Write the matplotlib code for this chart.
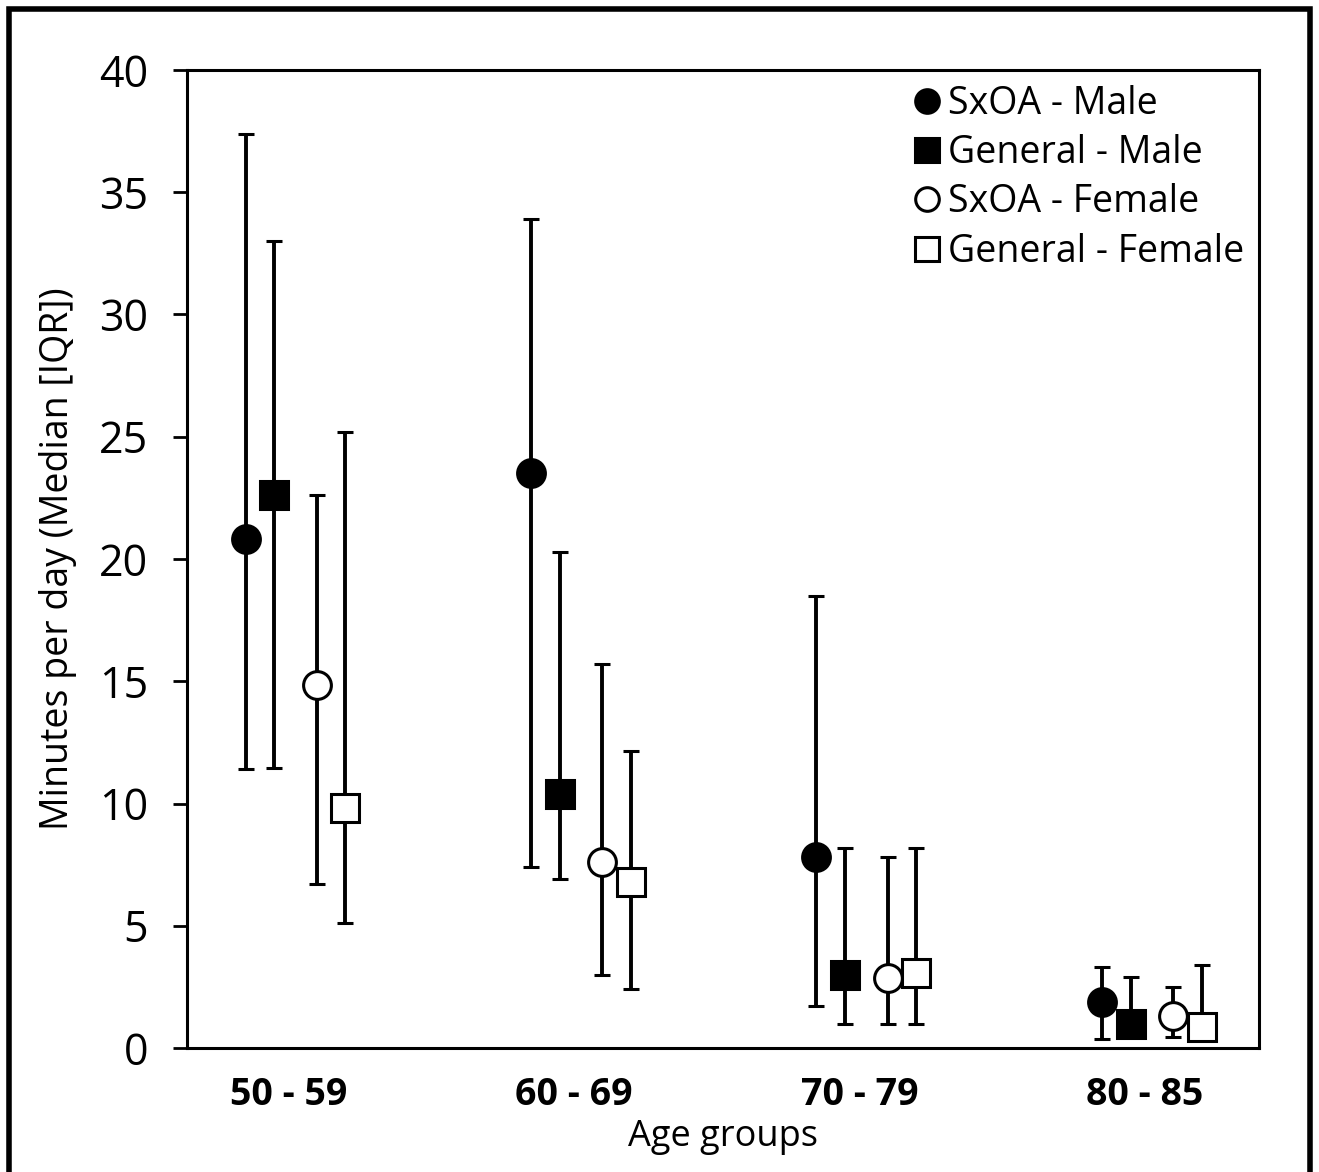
import matplotlib.pyplot as plt
from matplotlib.patches import Rectangle
from matplotlib.lines import Line2D
import numpy as np

plt.rcParams['font.family'] = ['Open Sans', 'DejaVu Sans']

# age groups on the x axis
age_groups = ["50 - 59", "60 - 69", "70 - 79", "80 - 85"]

# medians and IQR (lower, upper), minutes per day
sxoa_male_med = [20.8, 23.5, 7.8, 1.9]
sxoa_male_lo = [11.4, 7.4, 1.7, 0.35]
sxoa_male_hi = [37.4, 33.9, 18.5, 3.3]

gen_male_med = [22.6, 10.4, 3.0, 1.0]
gen_male_lo = [11.45, 6.9, 1.0, 0.6]
gen_male_hi = [33.0, 20.3, 8.2, 2.9]

sxoa_female_med = [14.85, 7.6, 2.85, 1.3]
sxoa_female_lo = [6.7, 3.0, 1.0, 0.45]
sxoa_female_hi = [22.6, 15.7, 7.8, 2.5]

gen_female_med = [9.8, 6.8, 3.05, 0.85]
gen_female_lo = [5.1, 2.4, 1.0, 0.4]
gen_female_hi = [25.2, 12.15, 8.2, 3.4]

series = [
    ("SxOA - Male", sxoa_male_med, sxoa_male_lo, sxoa_male_hi, "o", "black", -0.15),
    ("General - Male", gen_male_med, gen_male_lo, gen_male_hi, "s", "black", -0.05),
    ("SxOA - Female", sxoa_female_med, sxoa_female_lo, sxoa_female_hi, "o", "white", 0.10),
    ("General - Female", gen_female_med, gen_female_lo, gen_female_hi, "s", "white", 0.20),
]

fig = plt.figure(figsize=(13.19, 11.72), dpi=100)
ax = fig.add_axes([187 / 1319, 1 - 1048 / 1172, (1259 - 187) / 1319, (1048 - 70) / 1172])

x = np.arange(1, len(age_groups) + 1)
handles = []
for name, med, lo, hi, mk, fc, off in series:
    med = np.array(med)
    yerr = [med - np.array(lo), np.array(hi) - med]
    ax.errorbar(x + off, med, yerr=yerr, fmt=mk, ms=20, mfc=fc, mec="black", mew=2.2,
                ecolor="black", elinewidth=2.8, capsize=6, capthick=2.8)
    handles.append(Line2D([], [], ls="none", marker=mk, ms=17, mfc=fc, mec="black",
                          mew=2.2, label=name))

ax.set_xlim(0.645, 4.4)
ax.set_ylim(0, 40)
ax.set_yticks(np.arange(0, 41, 5))
ax.set_xticks(x)
ax.set_xticklabels(age_groups, fontsize=27, fontweight="bold")
ax.tick_params(axis="y", direction="out", length=10, width=2, labelsize=31, pad=18)
ax.tick_params(axis="x", length=0, pad=20)
for s in ax.spines.values():
    s.set_linewidth(2.2)

ax.set_xlabel("Age groups", fontsize=26, labelpad=4)
ax.set_ylabel("Minutes per day (Median [IQR])", fontsize=27, labelpad=16)

ax.legend(handles=handles, loc="upper right", bbox_to_anchor=(1.0, 1.0), frameon=False,
          fontsize=27, handlelength=0.8, handletextpad=0.15, labelspacing=0.3,
          borderaxespad=0.0)

# outer frame around the whole figure
fig.patches.append(Rectangle((9 / 1319, -0.01), (1310 - 9) / 1319, 1 - 9 / 1172 + 0.01,
                             transform=fig.transFigure, fill=False, edgecolor="black",
                             linewidth=4, zorder=10))

fig.savefig("out.png", dpi=100)
